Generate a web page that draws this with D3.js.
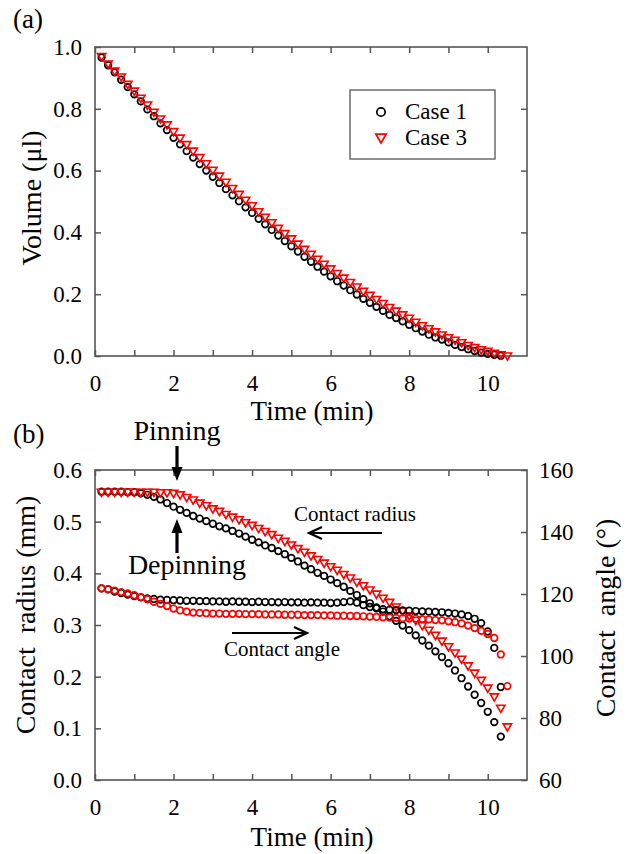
<!DOCTYPE html>
<html>
<head>
<meta charset="utf-8">
<script src="https://cdn.jsdelivr.net/npm/d3@7"></script>
<style>
  body { margin: 0; background: #fff; }
  svg text { font-family: "Liberation Serif", "Times New Roman", serif; fill: #000; white-space: pre; }
</style>
</head>
<body>
<svg id="chart" width="632" height="854"></svg>
<script>
// one frame every 10 s, first frame at 10 s
var dtMin = 1 / 6;

var timeTicks = [0, 1, 2, 3, 4, 5, 6, 7, 8, 9, 10];
var timeLabels = [0, 2, 4, 6, 8, 10];
var volumeTicks = [0, 0.2, 0.4, 0.6, 0.8, 1.0];
var radiusTicks = [0, 0.1, 0.2, 0.3, 0.4, 0.5, 0.6];
var angleTicks = [60, 80, 100, 120, 140, 160];
var seriesNames = ["Case 1", "Case 3"];

// (a) volume, ul
var volumeCase1 = [
  0.966,0.941,0.918,0.894,0.870,0.847,0.824,0.798,0.776,0.753,
  0.731,0.706,0.685,0.663,0.642,0.621,0.600,0.580,0.560,0.540,
  0.520,0.501,0.481,0.463,0.444,0.426,0.408,0.390,0.372,0.355,
  0.338,0.321,0.305,0.289,0.273,0.258,0.242,0.228,0.213,0.199,
  0.185,0.172,0.159,0.146,0.133,0.123,0.112,0.101,0.090,0.079,
  0.069,0.060,0.053,0.044,0.036,0.029,0.022,0.016,0.011,0.007,
  0.004,0.001];
var volumeCase3 = [
  0.971,0.947,0.924,0.905,0.881,0.859,0.836,0.814,0.791,0.769,
  0.750,0.728,0.707,0.686,0.665,0.644,0.624,0.603,0.584,0.564,
  0.544,0.525,0.506,0.488,0.469,0.451,0.433,0.415,0.398,0.381,
  0.364,0.347,0.331,0.315,0.299,0.284,0.269,0.254,0.240,0.225,
  0.211,0.198,0.185,0.172,0.159,0.147,0.135,0.124,0.111,0.100,
  0.090,0.080,0.070,0.061,0.053,0.045,0.036,0.029,0.022,0.017,
  0.011,0.006,0.002];

// (b) contact radius, mm
var radiusCase1 = [
  0.558,0.558,0.558,0.558,0.557,0.557,0.555,0.552,0.548,0.543,
  0.536,0.529,0.523,0.517,0.511,0.506,0.501,0.496,0.491,0.487,
  0.482,0.477,0.471,0.465,0.460,0.454,0.449,0.443,0.437,0.430,
  0.423,0.415,0.408,0.401,0.395,0.388,0.381,0.374,0.366,0.358,
  0.350,0.342,0.334,0.326,0.317,0.308,0.299,0.290,0.280,0.270,
  0.260,0.249,0.238,0.226,0.212,0.197,0.181,0.165,0.149,0.132,
  0.112,0.084];
var radiusCase3 = [
  0.558,0.558,0.558,0.558,0.558,0.558,0.558,0.558,0.558,0.557,
  0.557,0.556,0.553,0.548,0.543,0.537,0.532,0.526,0.521,0.515,
  0.510,0.505,0.499,0.494,0.488,0.482,0.476,0.469,0.463,0.456,
  0.449,0.442,0.435,0.428,0.421,0.414,0.407,0.399,0.392,0.384,
  0.377,0.369,0.361,0.353,0.345,0.336,0.328,0.319,0.310,0.300,
  0.291,0.281,0.270,0.259,0.247,0.235,0.222,0.208,0.194,0.179,
  0.162,0.140,0.104];

// (b) contact angle, degrees
var angleCase1 = [
  121.8,121.5,120.8,120.3,119.8,119.3,118.9,118.6,118.4,118.2,
  118.1,118.0,117.9,117.8,117.8,117.7,117.7,117.6,117.6,117.5,
  117.6,117.5,117.5,117.4,117.5,117.4,117.4,117.3,117.4,117.3,
  117.3,117.2,117.3,117.2,117.2,117.1,117.2,117.4,117.6,117.2,
  116.4,115.8,115.4,115.1,114.9,114.8,114.7,114.6,114.5,114.4,
  114.3,114.2,114.1,113.9,113.7,113.4,112.9,112.0,110.6,107.9,
  102.6,90.0];
var angleCase3 = [
  121.8,121.6,121.1,120.6,120.2,119.6,119.0,118.3,117.5,116.8,
  116.1,115.3,114.7,114.3,114.0,113.9,113.8,113.7,113.7,113.6,
  113.6,113.6,113.5,113.5,113.5,113.4,113.4,113.4,113.3,113.3,
  113.3,113.2,113.2,113.2,113.1,113.1,113.0,113.0,112.9,112.9,
  112.8,112.7,112.6,112.5,112.4,112.3,112.2,112.1,112.0,111.9,
  111.8,111.6,111.5,111.2,110.9,110.5,109.8,109.0,108.1,107.1,
  105.8,100.5,90.3];

var black = "#000";
var red = "#ff0000";
var axisColor = "#555";

var svg = d3.select("#chart");

var x = d3.scaleLinear().domain([0, 11]).range([95, 527]);
var yVol = d3.scaleLinear().domain([0, 1]).range([356, 47]);
var yRad = d3.scaleLinear().domain([0, 0.6]).range([780, 470]);
var yAng = d3.scaleLinear().domain([60, 160]).range([780, 470]);

function points(values) {
  return values.map(function (v, i) { return { t: (i + 1) * dtMin, v: v }; });
}

function styleAxis(g, size) {
  g.select(".domain").remove();
  g.attr("font-size", size);
  g.selectAll(".tick line").attr("stroke", axisColor).attr("stroke-width", 1.5);
}

function drawAxes(top, bottom, yLeft, leftTicks, leftFmt, yRight, rightTicks, rightFmt) {
  var tick = 6;

  var gb = svg.append("g").attr("transform", "translate(0," + bottom + ")")
    .call(d3.axisBottom(x).tickValues(timeTicks).tickSize(-tick).tickSizeOuter(0)
      .tickFormat(function (d) { return timeLabels.indexOf(d) >= 0 ? d : ""; }));
  styleAxis(gb, 23);
  gb.selectAll("text").attr("dy", null).attr("y", 35);

  var gt = svg.append("g").attr("transform", "translate(0," + top + ")")
    .call(d3.axisTop(x).tickValues(timeTicks).tickSize(-tick).tickSizeOuter(0).tickFormat(""));
  styleAxis(gt, 23);

  var gl = svg.append("g").attr("transform", "translate(" + x(0) + ",0)")
    .call(d3.axisLeft(yLeft).tickValues(leftTicks).tickSize(-tick).tickSizeOuter(0)
      .tickPadding(13).tickFormat(leftFmt));
  styleAxis(gl, 23);

  var gr = svg.append("g").attr("transform", "translate(" + x(11) + ",0)")
    .call(d3.axisRight(yRight).tickValues(rightTicks).tickSize(-tick).tickSizeOuter(0)
      .tickPadding(12).tickFormat(rightFmt));
  styleAxis(gr, 23);

  svg.append("rect")
    .attr("x", x(0)).attr("y", top)
    .attr("width", x(11) - x(0)).attr("height", bottom - top)
    .attr("fill", "none").attr("stroke", axisColor).attr("stroke-width", 1.6);
}

function drawCircles(values, y, color) {
  svg.append("g").selectAll("circle").data(points(values)).join("circle")
    .attr("cx", function (d) { return x(d.t); })
    .attr("cy", function (d) { return y(d.v); })
    .attr("r", 3.3)
    .attr("fill", "none").attr("stroke", color).attr("stroke-width", 1.7);
}

var triangle = d3.symbol().type(d3.symbolTriangle).size(30);

function drawTriangles(values, y, color) {
  svg.append("g").selectAll("path").data(points(values)).join("path")
    .attr("d", triangle)
    .attr("transform", function (d) { return "translate(" + x(d.t) + "," + y(d.v) + ") rotate(180)"; })
    .attr("fill", "none").attr("stroke", color).attr("stroke-width", 1.6);
}

function text(str, px, py, size, anchor, rotate) {
  var t = svg.append("text").text(str).attr("font-size", size)
    .attr("text-anchor", anchor || "start");
  if (rotate) t.attr("transform", "translate(" + px + "," + py + ") rotate(" + rotate + ")");
  else t.attr("x", px).attr("y", py);
  return t;
}

function arrowLine(x1, x2, yy) {
  // open arrow head at x2
  var dir = x2 > x1 ? -1 : 1;
  svg.append("path")
    .attr("d", "M" + x1 + "," + yy + "H" + x2 +
      "M" + (x2 + dir * 13) + "," + (yy - 6) + "L" + x2 + "," + yy + "L" + (x2 + dir * 13) + "," + (yy + 6))
    .attr("fill", "none").attr("stroke", black).attr("stroke-width", 2.2);
}

function blockArrow(px, yFrom, yTip) {
  // filled head arrow, vertical
  var dir = yTip > yFrom ? 1 : -1;
  var headStart = yTip - dir * 14;
  svg.append("line").attr("x1", px).attr("x2", px).attr("y1", yFrom).attr("y2", headStart)
    .attr("stroke", black).attr("stroke-width", 3.2);
  svg.append("path")
    .attr("d", "M" + (px - 5.5) + "," + headStart + "L" + (px + 5.5) + "," + headStart + "L" + px + "," + yTip + "Z")
    .attr("fill", black);
}

// ---- panel (a)
drawAxes(yVol(1), yVol(0), yVol, volumeTicks, d3.format(".1f"), yVol, volumeTicks.slice(1, 5), "");
drawCircles(volumeCase1, yVol, black);
drawTriangles(volumeCase3, yVol, red);

text("(a)", 13, 28, 27);
text("Volume (\u03bcl)", 41, 198, 28, "middle", -90);
text("Time (min)", 312, 420, 27, "middle");

// legend
svg.append("rect").attr("x", 350).attr("y", 90).attr("width", 145).attr("height", 69)
  .attr("fill", "#fff").attr("stroke", axisColor).attr("stroke-width", 1.3);
svg.append("circle").attr("cx", 381).attr("cy", 112).attr("r", 4.2)
  .attr("fill", "none").attr("stroke", black).attr("stroke-width", 1.7);
svg.append("path").attr("d", d3.symbol().type(d3.symbolTriangle).size(46))
  .attr("transform", "translate(381,137) rotate(180)")
  .attr("fill", "none").attr("stroke", red).attr("stroke-width", 1.7);
text(seriesNames[0], 405, 119, 23);
text(seriesNames[1], 405, 145, 23);

// ---- panel (b)
drawAxes(yRad(0.6), yRad(0), yRad, radiusTicks, d3.format(".1f"), yAng, angleTicks, d3.format("d"));
drawCircles(radiusCase1, yRad, black);
drawTriangles(radiusCase3, yRad, red);
drawCircles(angleCase1, yAng, black);
drawCircles(angleCase3, yAng, red);

text("(b)", 13, 443, 27);
text("Contact  radius (mm)", 35, 615, 28, "middle", -90);
text("Contact  angle (\u00b0)", 615, 618, 28, "middle", -90);
text("Time (min)", 312, 846, 27, "middle");

text("Pinning", 177, 440, 28, "middle");
blockArrow(177, 446, 481);
text("Depinning", 187, 574, 28, "middle");
blockArrow(177, 553, 519);

text("Contact radius", 355, 521, 21, "middle");
arrowLine(382, 309, 533);
text("Contact angle", 282, 656, 21, "middle");
arrowLine(232, 307, 633);
</script>
</body>
</html>
